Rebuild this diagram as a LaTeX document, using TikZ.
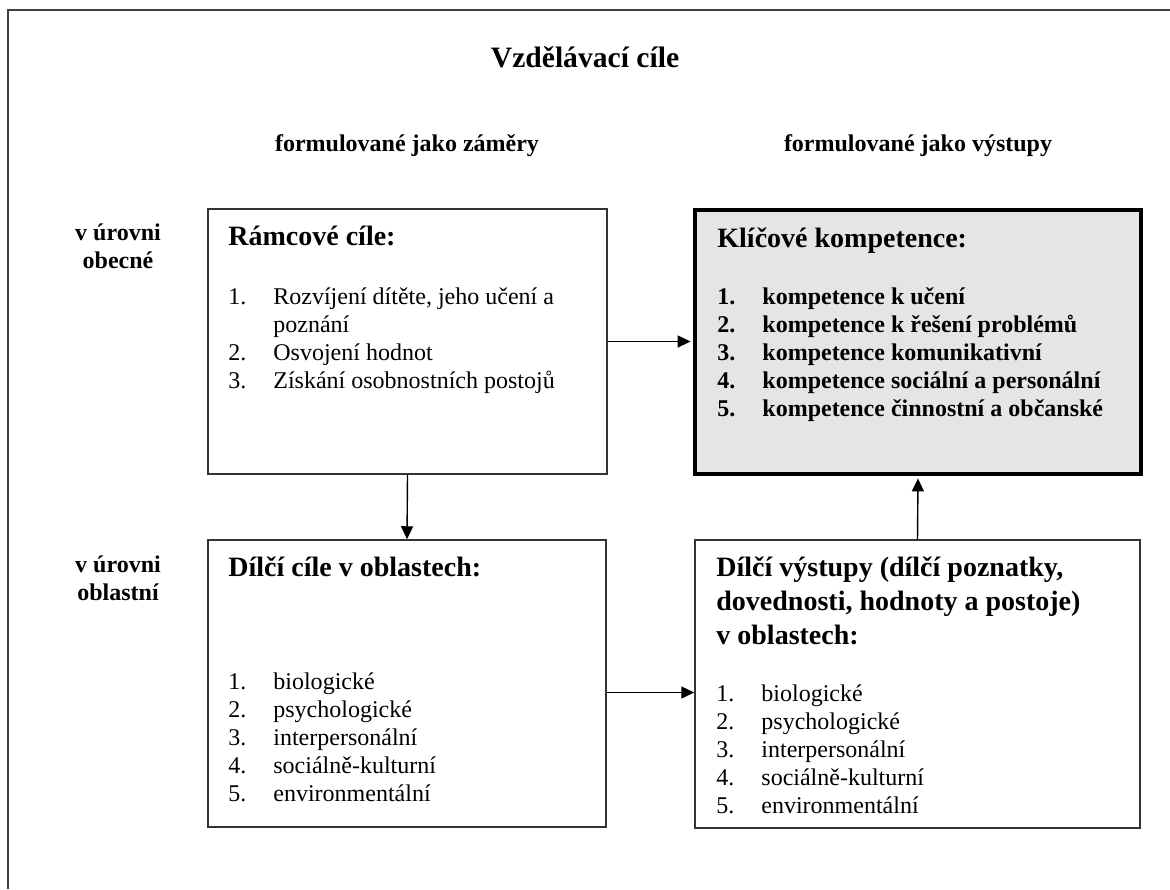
\documentclass[tikz,border=0pt]{standalone}
\usepackage{fontspec}
\setmainfont{Liberation Serif}
\usetikzlibrary{arrows.meta,fit}

\tikzset{
  ramec/.style={draw=black!75, line width=1pt},
  krabice/.style={draw=black!80, line width=0.75pt, inner sep=0pt},
  klic/.style={draw=black, line width=2.2pt, fill=black!10, inner sep=0pt},
  sipka/.style={-{Triangle[length=6.5pt,width=6pt]}, line width=0.7pt},
  nadpis/.style={font=\fontsize{14}{17}\selectfont\bfseries, inner sep=0pt, anchor=base west},
  popis/.style={font=\fontsize{12}{14}\selectfont\bfseries, inner sep=0pt, anchor=base},
  seznam/.style={font=\fontsize{12}{14}\selectfont, inner sep=0pt, anchor=base west},
}
\newcommand{\polozky}[1]{\begin{tabular}[t]{@{}p{22.5pt}@{}l@{}}#1\end{tabular}}

\begin{document}
\begin{tikzpicture}[x=0.5pt, y=-0.5pt]
\useasboundingbox (0,0) rectangle (1170,889);

% ramecek kolem
\draw[ramec] (1170,10) -- (8,10) -- (8,889);

% nadpisy
\node[popis, font=\fontsize{14.8}{17}\selectfont\bfseries] (titul) at (585,67) {Vzdělávací cíle};
\node[popis] (zamery) at (407,151) {formulované jako záměry};
\node[popis] (vystupy) at (918,151) {formulované jako výstupy};
\node[popis] (obecne) at (118,240) {\begin{tabular}[t]{@{}c@{}}v úrovni\\obecné\end{tabular}};
\node[popis] (oblastni) at (118,572) {\begin{tabular}[t]{@{}c@{}}v úrovni\\oblastní\end{tabular}};

% krabice
\node[krabice, fit={(208,209) (607,474)}] (ramcove) {};
\node[klic, fit={(695,210) (1141,474)}] (klicove) {};
\node[krabice, fit={(208,540) (606,827)}] (dilcicile) {};
\node[krabice, fit={(695,540) (1140,828)}] (dilcivystupy) {};

% obsah krabic
\node[nadpis] (ramcoveT) at (228,245) {Rámcové cíle:};
\node[seznam] (ramcoveS) at (228,304) {\polozky{1. & Rozvíjení dítěte, jeho učení a\\ & poznání\\ 2. & Osvojení hodnot\\ 3. & Získání osobnostních postojů}};

\node[nadpis] (klicoveT) at (717,247) {Klíčové kompetence:};
\node[seznam, font=\fontsize{12}{14}\selectfont\bfseries] (klicoveS) at (717,304) {\polozky{1. & kompetence k učení\\ 2. & kompetence k řešení problémů\\ 3. & kompetence komunikativní\\ 4. & kompetence sociální a personální\\ 5. & kompetence činnostní a občanské}};

\node[nadpis] (dilciT) at (228,576) {Dílčí cíle v oblastech:};
\node[seznam] (dilciS) at (228,689) {\polozky{1. & biologické\\ 2. & psychologické\\ 3. & interpersonální\\ 4. & sociálně-kulturní\\ 5. & environmentální}};

\node[nadpis] (vystupyT) at (716,576) {\begin{tabular}[t]{@{}l@{}}Dílčí výstupy (dílčí poznatky,\\dovednosti, hodnoty a postoje)\\v oblastech:\end{tabular}};
\node[seznam] (vystupyS) at (716,701) {\polozky{1. & biologické\\ 2. & psychologické\\ 3. & interpersonální\\ 4. & sociálně-kulturní\\ 5. & environmentální}};

% sipky
\draw[sipka, shorten >=1.1pt] (ramcove.east) -- (ramcove.east -| klicove.west);
\draw[sipka] (ramcove.south) -- (dilcicile.north);
\draw[sipka] ([yshift=-4.5pt]dilcicile.east) -- ([yshift=-4.5pt]dilcicile.east -| dilcivystupy.west);
\draw[sipka, shorten >=1.1pt] (dilcivystupy.north) -- (klicove.south);
\end{tikzpicture}
\end{document}
